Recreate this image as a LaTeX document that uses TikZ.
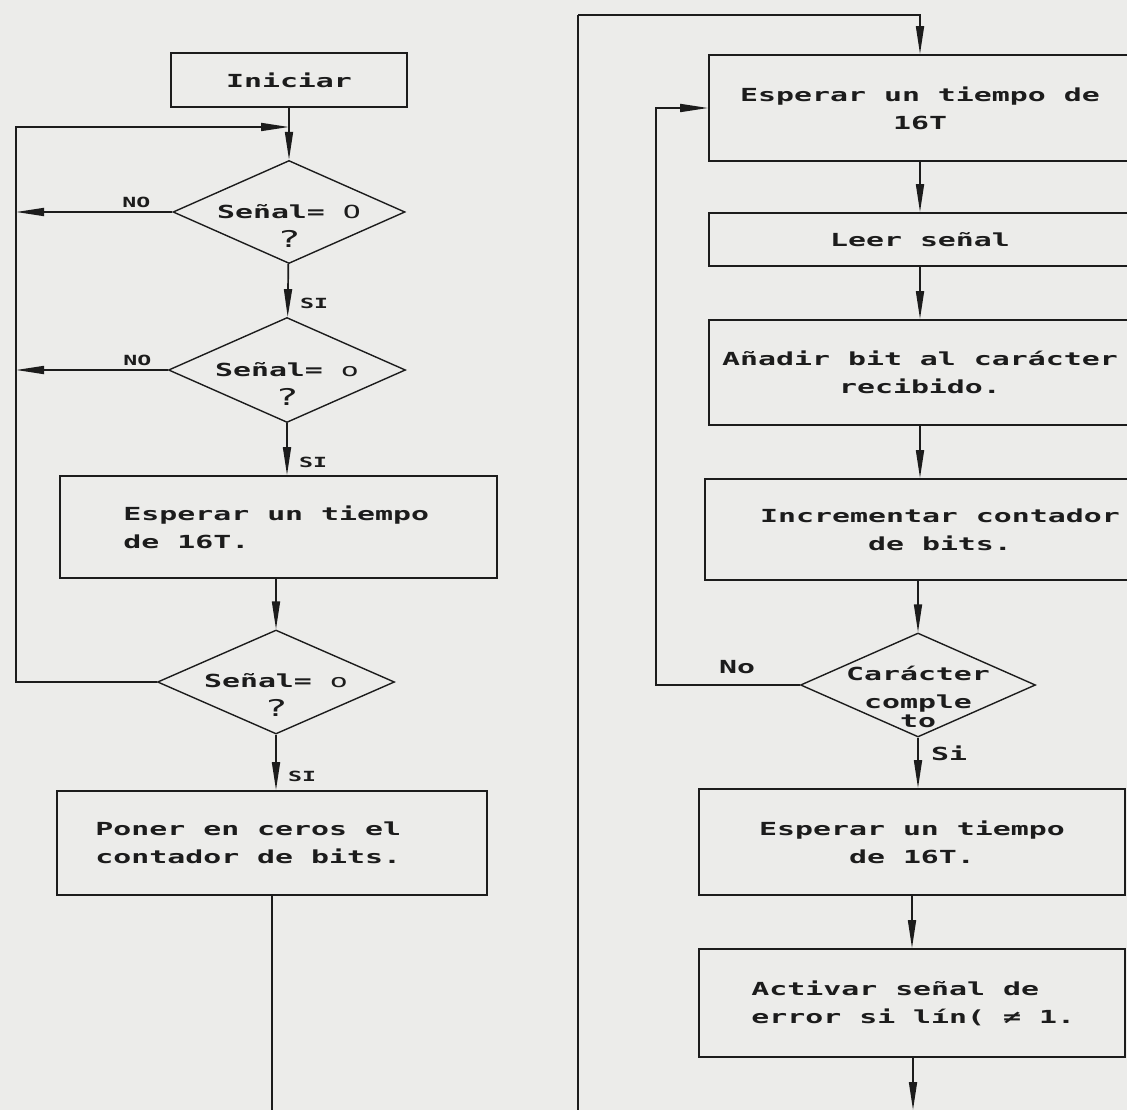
\documentclass[tikz,border=0pt]{standalone}
\usepackage{fontspec}
\setmainfont{DejaVu Sans Mono}[FakeStretch=1.66]
\usetikzlibrary{arrows.meta,shapes.geometric}
\definecolor{paper}{RGB}{236,236,234}
\definecolor{ink}{RGB}{28,28,28}
\newcommand{\qmark}{{\mdseries\fontsize{23}{29}\selectfont ?}}
\tikzset{
  line/.style={draw=ink, line width=1.7pt},
  flow/.style={line, -{Triangle[length=28pt,width=8pt]}},
  box/.style={draw=ink, line width=1.7pt, rectangle, inner sep=0pt, text=ink,
    font=\fontsize{18}{28}\selectfont\bfseries},
  btxt/.style={anchor=west, align=left, inner sep=0pt, text=ink,
    font=\fontsize{18}{28}\selectfont\bfseries},
  dec/.style={draw=ink, line width=1.4pt, diamond, inner sep=0pt},
  dtxt/.style={align=center, text=ink, font=\fontsize{18}{29}\selectfont\bfseries},
  lab/.style={text=ink, font=\fontsize{14}{16}\selectfont\bfseries},
  rlab/.style={text=ink, font=\fontsize{18}{20}\selectfont\bfseries},
}
\begin{document}
\begin{tikzpicture}[x=1pt, y=-1pt]
                \useasboundingbox[fill=paper] (0,0) rectangle (1127,1110);
                \clip (0,0) rectangle (1127,1110);

                \node[box, minimum width=236pt, minimum height=54pt] (ini) at (289,80) {Iniciar};
                \coordinate (j1) at (289,127);
                \coordinate (lp) at (16,127);
                \node[dec, minimum width=232pt, minimum height=103pt,
                  label={[dtxt, yshift=-13.5pt]center:{Señal= {\mdseries O}\\\qmark}}] (d1) at (289,212) {};
                \node[dec, minimum width=237pt, minimum height=105pt,
                  label={[dtxt, yshift=-13.5pt]center:{Señal= {\mdseries o}\\\qmark}}] (d2) at (287,370) {};
                \node[box, minimum width=437pt, minimum height=102pt,
                  label={[btxt, xshift=64pt]west:{Esperar un tiempo\\de 16T.}}] (b1) at (278.5,527) {};
                \node[dec, minimum width=237pt, minimum height=104pt,
                  label={[dtxt, yshift=-12.5pt]center:{Señal= {\mdseries o}\\\qmark}}] (d3) at (276,682) {};
                \node[box, minimum width=430pt, minimum height=104pt,
                  label={[btxt, xshift=39pt]west:{Poner en ceros el\\contador de bits.}}] (b2) at (272,843) {};
                \coordinate (bl) at (272,1140);
                \coordinate (br) at (578,1140);
                \coordinate (tr) at (578,15);

                \node[box, minimum width=422pt, minimum height=106pt, align=center] (r1) at (920,108) {Esperar un tiempo de\\16T};
                \node[box, minimum width=422pt, minimum height=53pt] (r2) at (920,239.5) {Leer señal};
                \node[box, minimum width=422pt, minimum height=105pt, align=center] (r3) at (920,372.5) {Añadir bit al carácter\\recibido.};
                \node[box, minimum width=470pt, minimum height=101pt, align=center] (r4) at (940,529.5) {Incrementar contador\\de bits.};
                \node[dec, minimum width=235pt, minimum height=104pt,
                  label={[dtxt, yshift=-12pt]center:{Carácter\\[-1pt]comple\\[-10pt]to}}] (d4) at (918,685) {};
                \coordinate (lr) at (656,108);
                \node[box, minimum width=426pt, minimum height=106pt, align=center] (r5) at (912,842) {Esperar un tiempo\\de 16T.};
                \node[box, minimum width=426pt, minimum height=108pt,
                  label={[btxt, xshift=53pt]west:{Activar señal de\\error si lín( ≠ 1.}}] (r6) at (912,1003) {};
                \coordinate (rb) at (913,1110);

                \draw[line] (ini) to (j1);
                \draw[flow] (j1) to (d1);
                \draw[flow] (d1.west) to node [lab, above, pos=0.23] {NO} (d1.west -| lp);
                \draw[flow] (d1) to node [lab, right=8pt, pos=0.75] {SI} (d2);
                \draw[flow] (d2.west) to node [lab, above, pos=0.2] {NO} (d2.west -| lp);
                \draw[flow] (d2.south) to node [lab, right=8pt, pos=0.75] {SI} (d2.south |- b1.north);
                \draw[flow] (b1.south -| d3.north) to (d3.north);
                \draw[flow] (d3.west) -| (lp) -- (j1);
                \draw[flow] (d3.south) to node [lab, right=8pt, pos=0.75] {SI} (d3.south |- b2.north);
                \draw[line] (b2.south) -- (bl) -- (br) -- (tr);
                \draw[flow] (tr) -| (r1.north);

                \draw[flow] (r1) to (r2);
                \draw[flow] (r2) to (r3);
                \draw[flow] (r3.south) to (r3.south |- r4.north);
                \draw[flow] (r4.south -| d4.north) to (d4.north);
                \draw[flow] (d4.west) -| (lr) -- (r1.west);
                \node[rlab] (no) at (737,667) {No};
                \draw[flow] (d4.south) to node [rlab, right=9pt, pos=0.3] {Si} (d4.south |- r5.north);
                \draw[flow] (r5) to (r6);
                \draw[flow] (r6.south -| rb) to (rb);
            \end{tikzpicture}
\end{document}
